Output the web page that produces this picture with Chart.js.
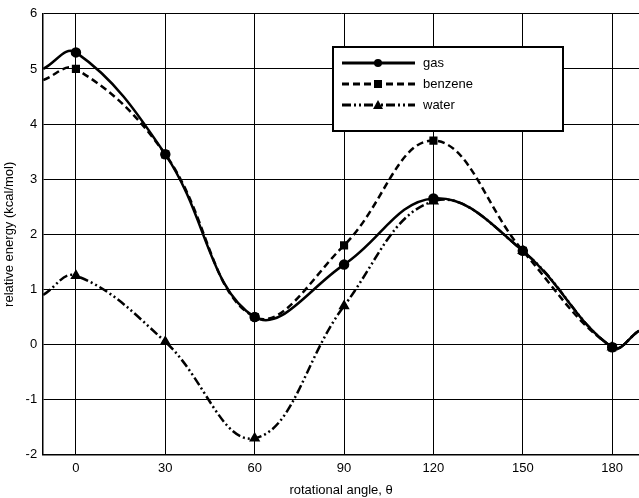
<!DOCTYPE html>
<html><head><meta charset="utf-8">
<script src="https://cdn.jsdelivr.net/npm/chart.js@4"></script>
<style>html,body{margin:0;background:#fff}#w{width:639px;height:498px}</style>
</head><body><div id="w"><canvas id="c"></canvas></div>
<script>
const angles = [-11, 0, 30, 60, 90, 120, 150, 180, 189];
const gas = [5.0, 5.3, 3.45, 0.5, 1.45, 2.65, 1.7, -0.05, 0.25];
const benzene = [4.8, 5.0, 3.45, 0.5, 1.8, 3.7, 1.7, -0.05, 0.25];
const water = [0.9, 1.25, 0.05, -1.7, 0.7, 2.6, 1.7, -0.05, 0.25];
const xTicks = [0, 30, 60, 90, 120, 150, 180];
const names = ['gas', 'benzene', 'water'];
const styles = [{d: [], p: 'circle'}, {d: [7, 4], p: 'rect'}, {d: [9, 3, 2, 3, 2, 3], p: 'triangle'}];
const radii = angles.map(a => xTicks.includes(a) ? 4 : 0);
const ds = [gas, benzene, water].map((v, i) => ({
  label: names[i], data: angles.map((a, j) => ({x: a, y: v[j]})),
  borderColor: '#000', backgroundColor: '#000', borderWidth: 2.5, borderDash: styles[i].d,
  pointStyle: styles[i].p, pointRadius: radii, tension: 0.4, fill: false
}));
const legendBox = {
  id: 'lb', afterDraw(ch) {
    const c = ch.ctx; c.save();
    c.strokeStyle = '#000'; c.fillStyle = '#fff'; c.lineWidth = 2;
    c.fillRect(333, 47, 230, 84); c.strokeRect(333, 47, 230, 84);
    c.font = '13px "Liberation Sans", Arial'; c.textBaseline = 'middle';
    names.forEach((n, i) => {
      const y = 63 + i * 21;
      c.setLineDash(styles[i].d); c.lineWidth = 3;
      c.beginPath(); c.moveTo(342, y); c.lineTo(415, y); c.stroke();
      c.setLineDash([]); c.fillStyle = '#000';
      c.beginPath();
      if (i === 0) { c.arc(378, y, 4, 0, 7); }
      else if (i === 1) { c.rect(374, y - 4, 8, 8); }
      else { c.moveTo(378, y - 5); c.lineTo(383, y + 4); c.lineTo(373, y + 4); c.closePath(); }
      c.fill();
      c.fillText(n, 423, y);
    });
    c.restore();
  }
};
new Chart(document.getElementById('c'), {
  type: 'line', data: {datasets: ds},
  options: {
    responsive: true, maintainAspectRatio: false, animation: false,
    layout: {padding: {top: 8, right: 0}},
    plugins: {legend: {display: false}, tooltip: {enabled: false}},
    scales: {
      x: {type: 'linear', min: -11, max: 189,
        afterBuildTicks: s => { s.ticks = xTicks.map(v => ({value: v})); },
        grid: {color: '#000', lineWidth: 1, drawTicks: false}, border: {color: '#000', width: 1.5},
        ticks: {color: '#000', font: {size: 13, family: 'Liberation Sans'}, padding: 6},
        title: {display: true, text: 'rotational angle, θ', color: '#000', font: {size: 13, family: 'Liberation Sans'}, padding: 0}},
      y: {min: -2, max: 6, ticks: {stepSize: 1, color: '#000', font: {size: 13, family: 'Liberation Sans'}, padding: 6},
        grid: {color: '#000', lineWidth: 1, drawTicks: false}, border: {color: '#000', width: 1.5},
        title: {display: true, text: 'relative energy (kcal/mol)', color: '#000', font: {size: 13, family: 'Liberation Sans'}, padding: 2}}
    }
  },
  plugins: [legendBox]
});
</script></body></html>
